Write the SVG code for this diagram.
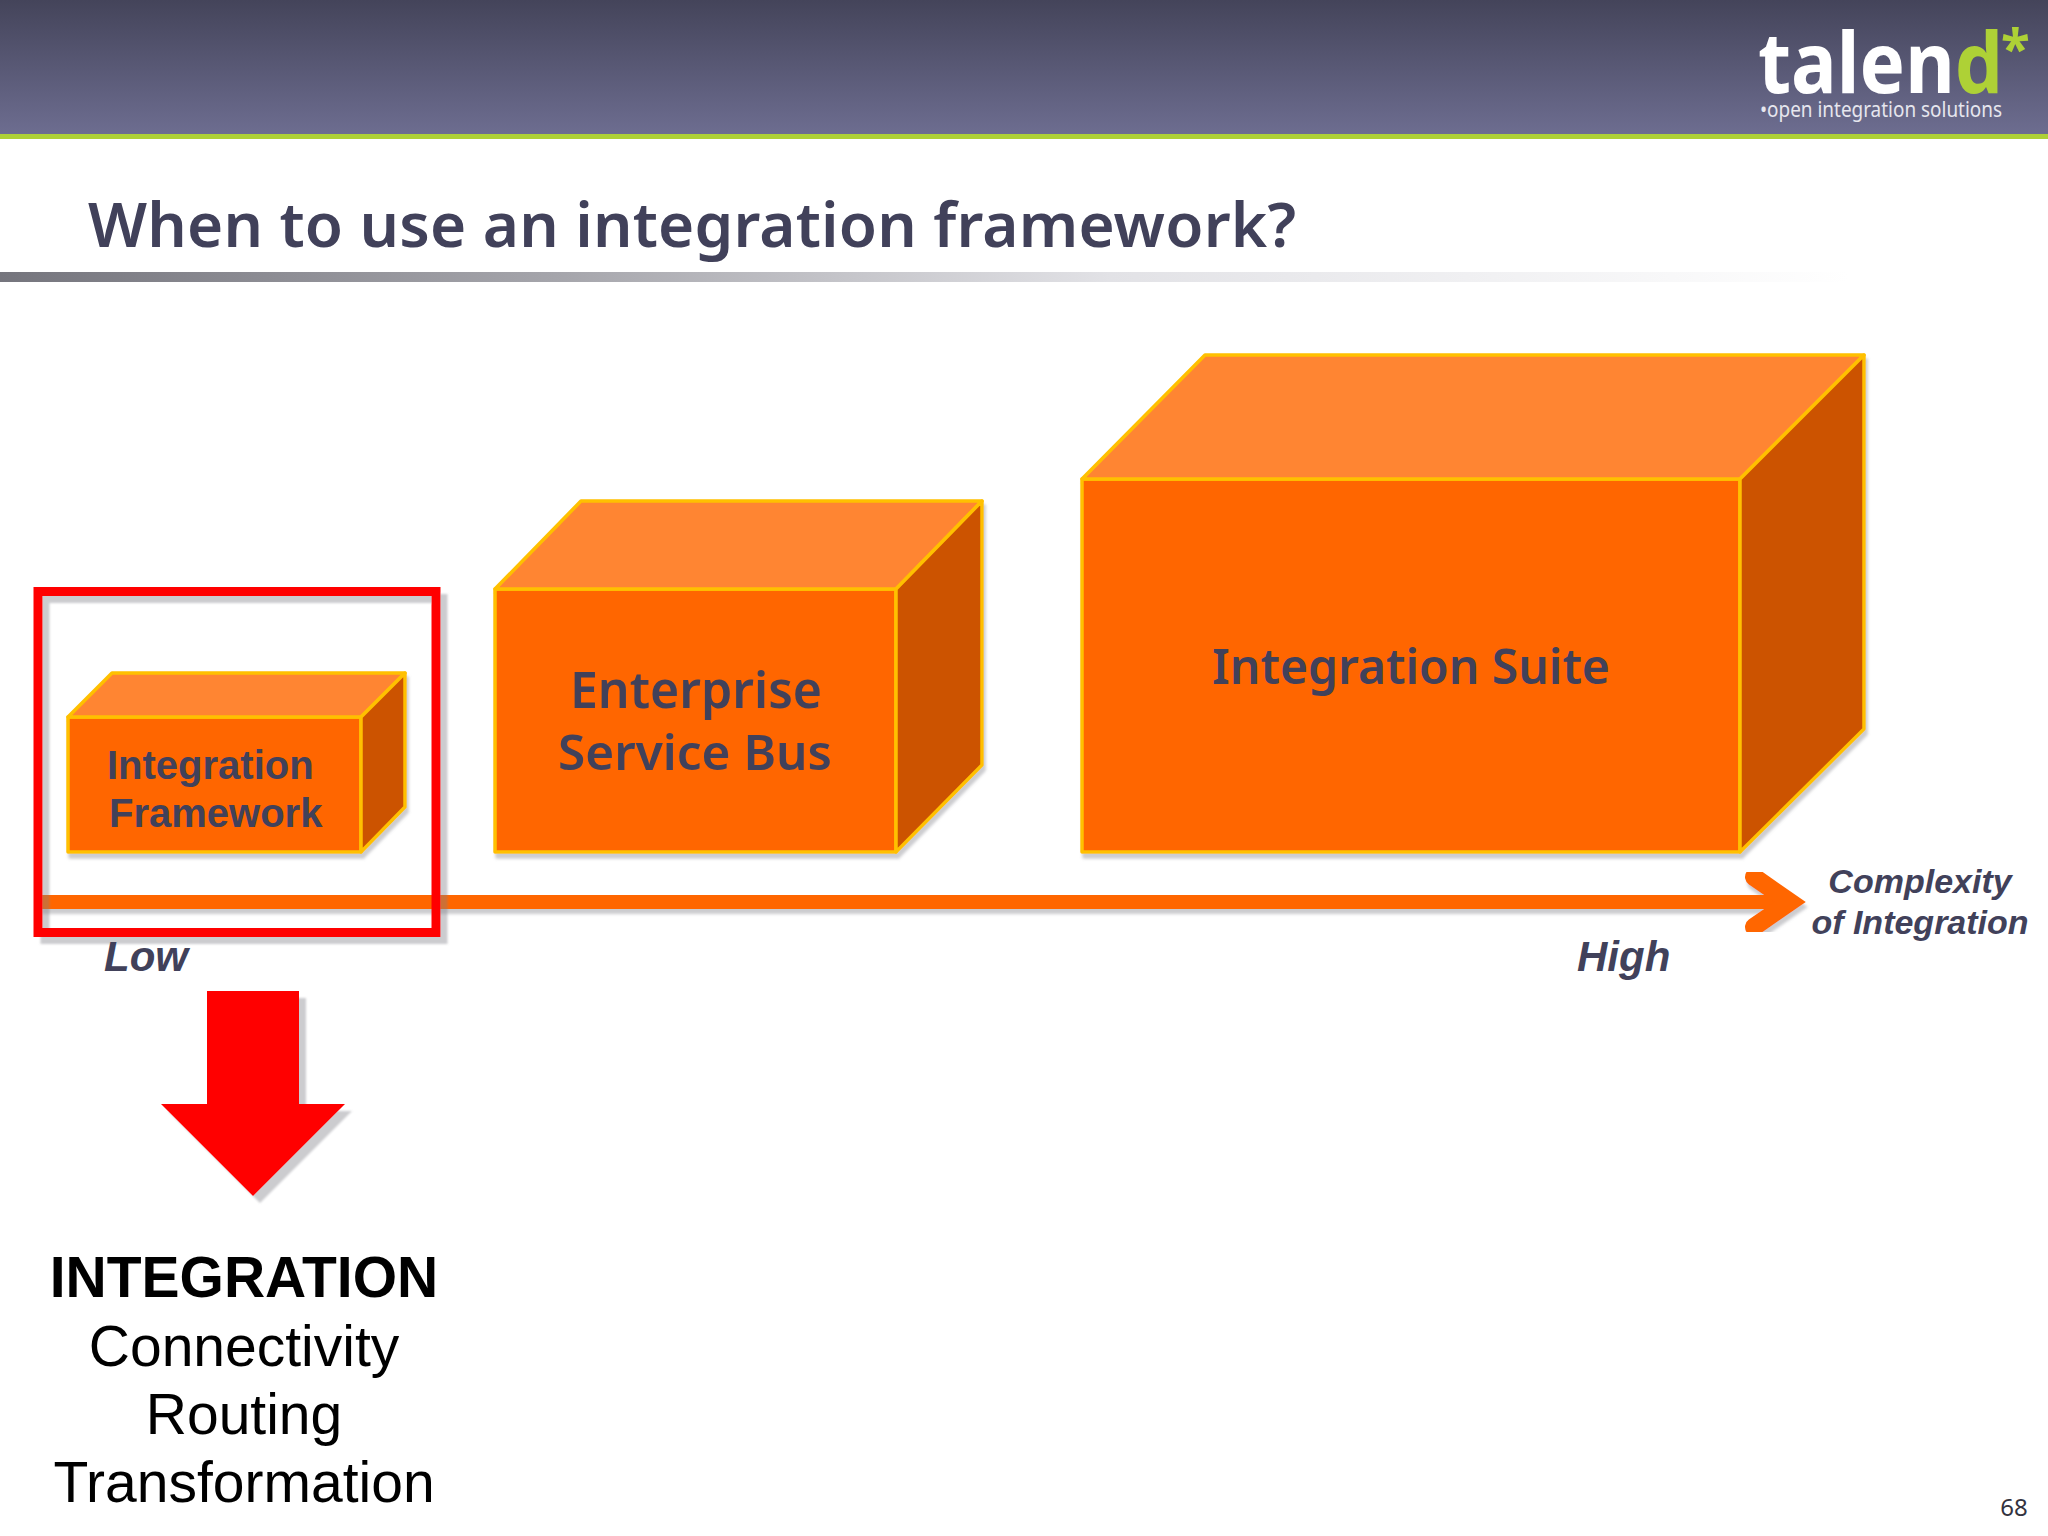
<svg xmlns="http://www.w3.org/2000/svg" width="2048" height="1536" viewBox="0 0 2048 1536">
<style>
.front{fill:#ff6600}.top{fill:#ff8533}.side{fill:#cc5200}
.f{stroke:#ffc000;stroke-width:3.500;stroke-linejoin:round}
.lab{fill:#41415a;font-family:"Noto Sans",sans-serif;font-weight:600;text-anchor:middle}
.axis{fill:#41415a;font-family:"Liberation Sans",Arial,sans-serif;font-weight:bold;font-style:italic}
.inner{fill:#41415a;font-family:"Liberation Sans",Arial,sans-serif;font-weight:bold;font-size:40px}
.big{fill:#000;font-family:"Liberation Sans",Arial,sans-serif;font-size:57px;text-anchor:middle}
</style>
<defs>
<linearGradient id="hdr" x1="0" y1="0" x2="0" y2="1"><stop offset="0" stop-color="#44445a"/><stop offset="1" stop-color="#6d6d90"/></linearGradient>
<linearGradient id="rule" x1="0" y1="0" x2="1" y2="0"><stop offset="0" stop-color="#75757d"/><stop offset="0.3" stop-color="#a5a5ab"/><stop offset="0.6" stop-color="#e2e2e6"/><stop offset="1" stop-color="#ffffff"/></linearGradient>
<filter id="sh" x="-10%" y="-10%" width="120%" height="120%"><feDropShadow dx="7" dy="7" stdDeviation="1" flood-color="#808088" flood-opacity="0.4"/></filter>
<filter id="sh2" x="-10%" y="-10%" width="120%" height="120%"><feDropShadow dx="2" dy="5" stdDeviation="1.500" flood-color="#808088" flood-opacity="0.4"/></filter>
</defs>
<rect width="2048" height="1536" fill="#fff"/>
<g id="header">
<rect width="2048" height="134" fill="url(#hdr)"/>
<rect y="134" width="2048" height="5" fill="#aed136"/>
<text x="1758" y="93" font-family="'Noto Sans',sans-serif" font-weight="700" font-size="85" fill="#fff" textLength="245" lengthAdjust="spacingAndGlyphs">talen<tspan fill="#aed136">d</tspan></text>
<text x="2001" y="68" font-family="'Noto Sans',sans-serif" font-weight="700" font-size="53" fill="#aed136">*</text>
<text x="1760" y="117" font-family="'Noto Sans',sans-serif" font-size="22" fill="#e6e6ee" textLength="242" lengthAdjust="spacingAndGlyphs">•open integration solutions</text>
</g>
<g id="title">
<text x="88" y="247" font-family="'Noto Sans',sans-serif" font-weight="600" font-size="62" fill="#41415a" textLength="1208" lengthAdjust="spacing">When to use an integration framework?</text>
<rect y="272" width="1850" height="10" fill="url(#rule)"/>
</g>
<g id="connectors">
<g filter="url(#sh2)">
<path d="M40 902H1785" stroke="#ff6600" stroke-width="14" fill="none"/>
<path d="M1754 877L1790 902L1754 927" stroke="#ff6600" stroke-width="18" stroke-linecap="round" stroke-linejoin="miter" fill="none"/>
</g>
</g>
<g id="node-integration-framework">
<g filter="url(#sh2)">
<path class="front f" d="M68 717H361V852H68Z"/>
<path class="top f" d="M68 717L112 673H405L361 717Z"/>
<path class="side f" d="M361 717L405 673V807L361 852Z"/>
</g>
<text class="inner" x="107" y="779">Integration</text>
<text class="inner" x="109" y="827">Framework</text>
</g>
<g id="node-esb">
<g filter="url(#sh2)">
<path class="front f" d="M495 589H896V852H495Z"/>
<path class="top f" d="M495 589L581 501H982L896 589Z"/>
<path class="side f" d="M896 589L982 501V765L896 852Z"/>
</g>
<text class="lab" x="696" y="708" font-size="50">Enterprise</text>
<text class="lab" x="695" y="770" font-size="49.500">Service Bus</text>
</g>
<g id="node-suite">
<g filter="url(#sh2)">
<path class="front f" d="M1082 479H1740V852H1082Z"/>
<path class="top f" d="M1082 479L1205 355H1864L1740 479Z"/>
<path class="side f" d="M1740 479L1864 355V729L1740 852Z"/>
</g>
<text class="lab" x="1411" y="684" font-size="48">Integration Suite</text>
</g>
<g id="selection">
<rect x="38" y="591.500" width="398" height="341" fill="none" stroke="#ff0000" stroke-width="9" filter="url(#sh)"/>
</g>
<g id="axis-labels">
<text class="axis" x="104" y="971" font-size="42">Low</text>
<text class="axis" x="1577" y="971" font-size="42">High</text>
<text class="axis" x="1920" y="893" font-size="34" text-anchor="middle">Complexity</text>
<text class="axis" x="1920" y="934" font-size="34" text-anchor="middle">of Integration</text>
</g>
<g id="down-arrow">
<path d="M207 991H299V1104H345L253 1196L161 1104H207Z" fill="#ff0000" filter="url(#sh)"/>
</g>
<g id="notes">
<text class="big" x="244" y="1297" font-weight="bold">INTEGRATION</text>
<text class="big" x="244" y="1366">Connectivity</text>
<text class="big" x="244" y="1434">Routing</text>
<text class="big" x="244" y="1502">Transformation</text>
</g>
<text id="page" x="2014" y="1516" font-family="'Noto Sans',sans-serif" font-size="24" fill="#333340" text-anchor="middle">68</text>
</svg>
